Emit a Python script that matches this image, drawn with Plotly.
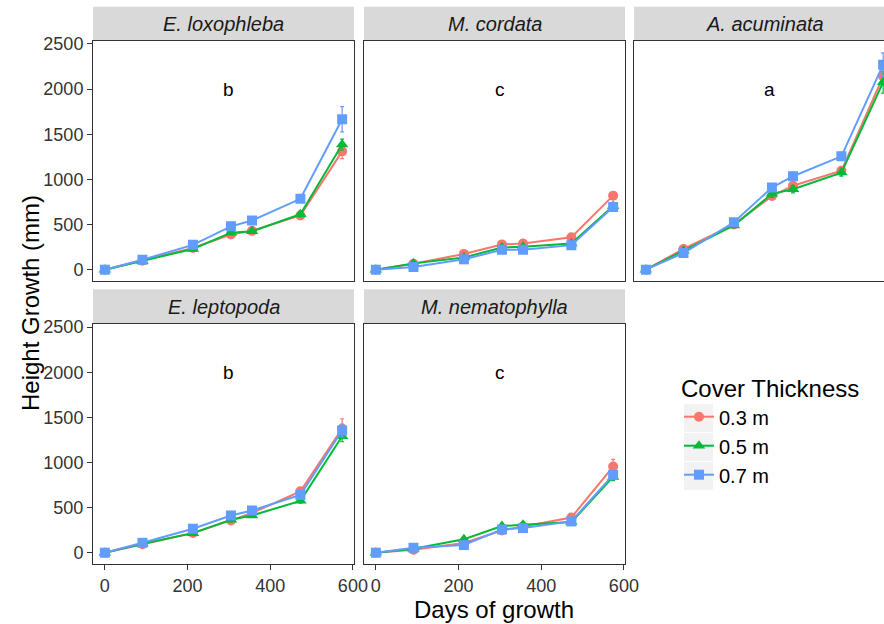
import plotly.graph_objects as go

days = [0, 91, 213, 305, 356, 473, 574]
species = ["E. loxophleba", "M. cordata", "A. acuminata", "E. leptopoda", "M. nematophylla"]
letters = ["b", "c", "a", "b", "c"]
levels = ["0.3 m", "0.5 m", "0.7 m"]

# mean height growth (mm) per species, per cover thickness
lox_03 = [0, 100, 240, 390, 430, 600, 1310]
lox_05 = [0, 95, 230, 410, 425, 615, 1385]
lox_07 = [0, 110, 275, 480, 545, 785, 1665]
cor_03 = [0, 65, 175, 280, 290, 360, 820]
cor_05 = [0, 70, 135, 245, 255, 290, 705]
cor_07 = [0, 30, 115, 220, 220, 272, 695]
acu_03 = [0, 230, 500, 815, 930, 1095, 2140]
acu_05 = [0, 210, 490, 840, 890, 1075, 2075]
acu_07 = [0, 185, 525, 910, 1035, 1255, 2270]
lep_03 = [0, 95, 218, 358, 440, 680, 1375]
lep_05 = [0, 100, 217, 365, 413, 575, 1290]
lep_07 = [0, 110, 266, 413, 468, 640, 1355]
nem_03 = [0, 33, 107, 247, 291, 390, 955]
nem_05 = [0, 45, 150, 295, 310, 340, 840]
nem_07 = [0, 55, 85, 258, 273, 347, 862]

# standard errors
lox_03_se = [3, 12, 18, 25, 25, 30, 80]
lox_05_se = [3, 10, 15, 20, 20, 30, 60]
lox_07_se = [3, 15, 20, 25, 25, 35, 140]
cor_03_se = [3, 8, 12, 15, 15, 20, 35]
cor_05_se = [3, 8, 10, 15, 15, 18, 30]
cor_07_se = [3, 6, 10, 15, 15, 18, 30]
acu_03_se = [3, 15, 25, 40, 40, 40, 100]
acu_05_se = [3, 15, 25, 40, 40, 40, 120]
acu_07_se = [3, 15, 25, 40, 45, 45, 130]
lep_03_se = [3, 10, 15, 20, 25, 30, 110]
lep_05_se = [3, 10, 15, 20, 20, 25, 60]
lep_07_se = [3, 10, 15, 20, 25, 30, 70]
nem_03_se = [3, 8, 10, 15, 15, 25, 80]
nem_05_se = [3, 8, 10, 15, 15, 20, 40]
nem_07_se = [3, 8, 10, 15, 15, 20, 40]

series = [
    [lox_03, lox_05, lox_07],
    [cor_03, cor_05, cor_07],
    [acu_03, acu_05, acu_07],
    [lep_03, lep_05, lep_07],
    [nem_03, nem_05, nem_07],
]
errors = [
    [lox_03_se, lox_05_se, lox_07_se],
    [cor_03_se, cor_05_se, cor_07_se],
    [acu_03_se, acu_05_se, acu_07_se],
    [lep_03_se, lep_05_se, lep_07_se],
    [nem_03_se, nem_05_se, nem_07_se],
]
y_ticks = [0, 500, 1000, 1500, 2000, 2500]
x_ticks = [0, 200, 400, 600]

colors = ["#F8766D", "#00BA38", "#619CFF"]
symbols = ["circle", "triangle-up", "square"]
msizes = [10, 11, 10]

W, H = 884, 624
FONT = "Liberation Sans, Arial, sans-serif"
DARK = "#333333"

cols_px = [(93, 354), (364, 625), (634, 895)]
rows_px = [(40.7, 281), (324, 564)]
strips_px = [(6.7, 40.7), (289.3, 324)]
pos = [(0, 0), (0, 1), (0, 2), (1, 0), (1, 1)]

X_RANGE = [-28.7, 602.7]
Y_RANGE = [-125, 2535]

# legend placement (pixels)
LEG_X, LEG_Y = 679, 366
KEY_X0, KEY_X1 = 684, 713
KEY_CENTERS = [418, 447, 476]


def px_x(p):
    return p / W


def px_y(p):
    return 1 - p / H


fig = go.Figure()
layout = {}
shapes = []
annotations = []

for i, (r, c) in enumerate(pos):
    k = i + 1
    xa = "x" if k == 1 else f"x{k}"
    ya = "y" if k == 1 else f"y{k}"
    x0, x1 = cols_px[c]
    y0, y1 = rows_px[r]
    xr = list(X_RANGE)
    if x1 > W:
        span = (X_RANGE[1] - X_RANGE[0]) / (x1 - x0)
        xr = [X_RANGE[0], X_RANGE[0] + (W - x0) * span]
        x1 = W
    for j in range(3):
        fig.add_trace(go.Scatter(
            x=days, y=series[i][j], xaxis=xa, yaxis=ya,
            mode="lines+markers", name=levels[j],
            legendgroup=levels[j], showlegend=(i == 0),
            line=dict(color=colors[j], width=2),
            marker=dict(symbol=symbols[j], size=msizes[j], color=colors[j]),
            error_y=dict(type="data", array=errors[i][j], color=colors[j], thickness=1.2, width=2),
        ))
    bottom_axis = (r == 1)
    left_axis = (c == 0)
    layout["xaxis" if k == 1 else f"xaxis{k}"] = dict(
        domain=[px_x(x0), px_x(x1)], range=xr, anchor=ya, automargin=False,
        showgrid=False, zeroline=False,
        showline=True, mirror=True, linecolor=DARK, linewidth=1,
        tickvals=x_ticks, ticktext=[str(t) for t in x_ticks],
        showticklabels=bottom_axis, ticks="outside" if bottom_axis else "",
        ticklen=5, tickcolor=DARK, tickwidth=1,
        tickfont=dict(family=FONT, size=18, color=DARK),
    )
    layout["yaxis" if k == 1 else f"yaxis{k}"] = dict(
        domain=[px_y(y1), px_y(y0)], range=Y_RANGE, anchor=xa, automargin=False,
        showgrid=False, zeroline=False,
        showline=True, mirror=(c != 2), linecolor=DARK, linewidth=1,
        tickvals=y_ticks, ticktext=[str(t) for t in y_ticks],
        showticklabels=left_axis, ticks="outside" if left_axis else "",
        ticklen=5, tickcolor=DARK, tickwidth=1,
        tickfont=dict(family=FONT, size=18, color=DARK),
    )
    # strip
    s0, s1 = strips_px[r]
    shapes.append(dict(type="rect", xref="paper", yref="paper",
                       x0=px_x(cols_px[c][0]), x1=px_x(min(cols_px[c][1], W)),
                       y0=px_y(s1), y1=px_y(s0),
                       fillcolor="#D9D9D9", line=dict(width=0), layer="below"))
    annotations.append(dict(xref="paper", yref="paper",
                            x=px_x((cols_px[c][0] + cols_px[c][1]) / 2),
                            y=px_y((s0 + s1) / 2),
                            text=f"<i>{species[i]}</i>", showarrow=False,
                            font=dict(family=FONT, size=20, color="#1A1A1A"),
                            xanchor="center", yanchor="middle"))
    annotations.append(dict(xref=xa, yref=ya, x=300, y=2000, text=letters[i],
                            showarrow=False, font=dict(family=FONT, size=19, color="black")))

# legend key backgrounds
for cy in KEY_CENTERS:
    shapes.append(dict(type="rect", xref="paper", yref="paper",
                       x0=px_x(KEY_X0), x1=px_x(KEY_X1),
                       y0=px_y(cy + 14), y1=px_y(cy - 14),
                       fillcolor="#F2F2F2", line=dict(width=0), layer="below"))

annotations.append(dict(xref="paper", yref="paper", x=px_x(30), y=px_y(303),
                        text="Height Growth (mm)", textangle=-90, showarrow=False,
                        font=dict(family=FONT, size=24, color="black"),
                        xanchor="center", yanchor="middle"))
annotations.append(dict(xref="paper", yref="paper", x=px_x(494), y=px_y(609),
                        text="Days of growth", showarrow=False,
                        font=dict(family=FONT, size=24, color="black"),
                        xanchor="center", yanchor="middle"))

fig.update_layout(
    width=W, height=H,
    margin=dict(l=0, r=0, t=0, b=0, autoexpand=False),
    paper_bgcolor="white", plot_bgcolor="white",
    shapes=shapes, annotations=annotations,
    legend=dict(
        x=px_x(LEG_X), y=px_y(LEG_Y), xanchor="left", yanchor="top",
        title=dict(text="Cover Thickness", font=dict(family=FONT, size=24, color="black")),
        font=dict(family=FONT, size=20, color="black"),
        tracegroupgap=0, bgcolor="rgba(0,0,0,0)",
    ),
    **layout,
)

fig.write_html("out.html")
